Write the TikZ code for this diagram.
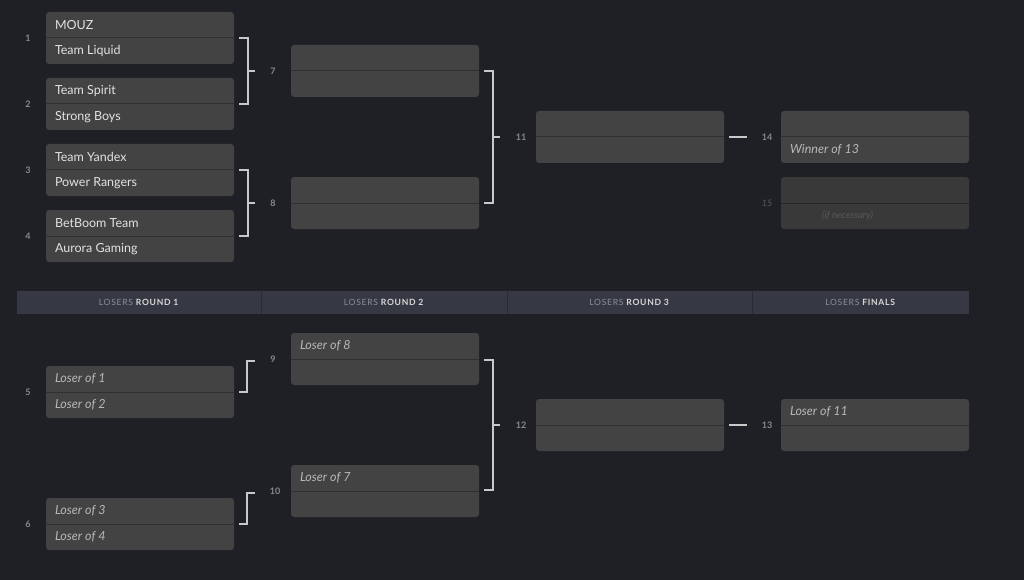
\documentclass[tikz,border=0pt]{standalone}
\usepackage{fontspec}
\setmainfont{Lato}
\usetikzlibrary{calc}
\definecolor{bg}{HTML}{1F2026}
\definecolor{boxc}{HTML}{434343}
\definecolor{boxdim}{HTML}{393939}
\definecolor{divc}{HTML}{303030}
\definecolor{teamc}{HTML}{E2E2E2}
\definecolor{tbdc}{HTML}{B8B8B8}
\definecolor{seedc}{HTML}{8A8A8A}
\definecolor{dimc}{HTML}{5A5A5A}
\definecolor{linec}{HTML}{C8C8C8}
\definecolor{hdfill}{HTML}{363943}
\definecolor{hddiv}{HTML}{2A2C33}
\definecolor{hdgray}{HTML}{8A8F99}
\definecolor{hdlight}{HTML}{D8D8D8}
\tikzset{
  mbox/.style={fill=boxc, rounded corners=3pt, minimum width=188pt, minimum height=52pt, inner sep=0pt},
  dimbox/.style={fill=boxdim},
  divline/.style={draw=divc, line width=1pt},
  team/.style={text=teamc, font=\fontsize{12.5}{14}\selectfont, inner sep=0pt},
  tbd/.style={text=tbdc, font=\fontsize{12.5}{14}\selectfont\itshape, inner sep=0pt},
  seed/.style={text=seedc, font=\fontsize{9}{10}\selectfont\bfseries, inner sep=0pt},
  bline/.style={draw=linec, line width=1.6pt},
  hdcell/.style={fill=hdfill, minimum height=23pt, inner sep=0pt, text=hdlight, font=\fontsize{8.6}{10}\selectfont\addfontfeature{LetterSpace=8}},
}
\begin{document}
\begin{tikzpicture}[x=1pt,y=-1pt]
\fill[bg] (0,0) rectangle (1024,580);
\useasboundingbox (0,0) rectangle (1024,580);

% ---------- match boxes ----------
\foreach \n/\cx/\cy in {m1/140/38, m2/140/104, m3/140/170, m4/140/236,
                          m7/385/71, m8/385/203, m11/630/137, m14/875/137,
                          m5/140/392, m6/140/524, m9/385/359, m10/385/491,
                          m12/630/425, m13/875/425}{
  \node[mbox] (\n) at (\cx,\cy) {};
  \draw[divline] (\n.west) -- (\n.east);
}
\node[mbox,dimbox] (m15) at (875,203) {};
\draw[draw=divc!80!black, line width=1pt] (m15.west) -- (m15.east);

% team texts
\node[team,anchor=west] (t1a) at ($(m1.west)+(9,-13)$) {MOUZ};
\node[team,anchor=west] (t1b) at ($(m1.west)+(9,13)$) {Team Liquid};
\node[team,anchor=west] (t2a) at ($(m2.west)+(9,-13)$) {Team Spirit};
\node[team,anchor=west] (t2b) at ($(m2.west)+(9,13)$) {Strong Boys};
\node[team,anchor=west] (t3a) at ($(m3.west)+(9,-13)$) {Team Yandex};
\node[team,anchor=west] (t3b) at ($(m3.west)+(9,13)$) {Power Rangers};
\node[team,anchor=west] (t4a) at ($(m4.west)+(9,-13)$) {BetBoom Team};
\node[team,anchor=west] (t4b) at ($(m4.west)+(9,13)$) {Aurora Gaming};
\node[tbd,anchor=west] (t14b) at ($(m14.west)+(9,13)$) {Winner of 13};
\node[anchor=west, inner sep=0pt, text=dimc, font=\fontsize{9.5}{11}\selectfont\itshape] (t15b) at (822,216) {(if necessary)};

% losers texts
\node[tbd,anchor=west] (t5a) at ($(m5.west)+(9,-13)$) {Loser of 1};
\node[tbd,anchor=west] (t5b) at ($(m5.west)+(9,13)$) {Loser of 2};
\node[tbd,anchor=west] (t6a) at ($(m6.west)+(9,-13)$) {Loser of 3};
\node[tbd,anchor=west] (t6b) at ($(m6.west)+(9,13)$) {Loser of 4};
\node[tbd,anchor=west] (t9a) at ($(m9.west)+(9,-13)$) {Loser of 8};
\node[tbd,anchor=west] (t10a) at ($(m10.west)+(9,-13)$) {Loser of 7};
\node[tbd,anchor=west] (t13a) at ($(m13.west)+(9,-13)$) {Loser of 11};

% seed / match labels
\node[seed] (s1) at (28,38) {1};
\node[seed] (s2) at (28,104) {2};
\node[seed] (s3) at (28,170) {3};
\node[seed] (s4) at (28,236) {4};
\node[seed] (s7) at (273,71) {7};
\node[seed] (s8) at (273,203) {8};
\node[seed] (s11) at (521,137) {11};
\node[seed] (s14) at (767,137) {14};
\node[seed, text=dimc, font=\fontsize{9}{10}\selectfont\itshape] (s15) at (767,203) {15};
\node[seed] (s5) at (28,392) {5};
\node[seed] (s6) at (28,524) {6};
\node[seed] (s9) at (273,359) {9};
\node[seed] (s10) at (275,491) {10};
\node[seed] (s12) at (521,425) {12};
\node[seed] (s13) at (767,425) {13};

% brackets (winners)
\draw[bline] ($(m1.east)+(5,0)$) -- ++(9,0) |- ($(m2.east)+(5,0)$);
\draw[bline] ($(m7.west)+(-43,0)$) -- ($(m7.west)+(-36,0)$);
\draw[bline] ($(m3.east)+(5,0)$) -- ++(9,0) |- ($(m4.east)+(5,0)$);
\draw[bline] ($(m8.west)+(-43,0)$) -- ($(m8.west)+(-36,0)$);
\draw[bline] ($(m7.east)+(5,0)$) -- ++(9,0) |- ($(m8.east)+(5,0)$);
\draw[bline] ($(m11.west)+(-44,0)$) -- ($(m11.west)+(-36,0)$);
\draw[bline] ($(m11.east)+(5,0)$) -- ($(m14.west)+(-34,0)$);

% brackets (losers)
\draw[bline] ($(m5.east)+(5,0)$) -- ++(8,0) |- ($(m9.west)+(-36,2)$);
\draw[bline] ($(m6.east)+(5,0)$) -- ++(8,0) |- ($(m10.west)+(-36,2)$);
\draw[bline] ($(m9.east)+(5,1)$) -- ++(9,0) |- ($(m10.east)+(5,-1)$);
\draw[bline] ($(m12.west)+(-44,0)$) -- ($(m12.west)+(-36,0)$);
\draw[bline] ($(m12.east)+(5,0)$) -- ($(m13.west)+(-34,0)$);

% header bar
\node[hdcell, minimum width=244pt] (h1) at (139,302.5) {{\color{hdgray}LOSERS} \textbf{ROUND 1}};
\node[hdcell, minimum width=246pt] (h2) at (384,302.5) {{\color{hdgray}LOSERS} \textbf{ROUND 2}};
\node[hdcell, minimum width=245pt] (h3) at (629.5,302.5) {{\color{hdgray}LOSERS} \textbf{ROUND 3}};
\node[hdcell, minimum width=217pt] (h4) at (860.5,302.5) {{\color{hdgray}LOSERS} \textbf{FINALS}};
\draw[draw=hddiv, line width=1pt] (h1.north east) -- (h1.south east);
\draw[draw=hddiv, line width=1pt] (h2.north east) -- (h2.south east);
\draw[draw=hddiv, line width=1pt] (h3.north east) -- (h3.south east);
\end{tikzpicture}
\end{document}
